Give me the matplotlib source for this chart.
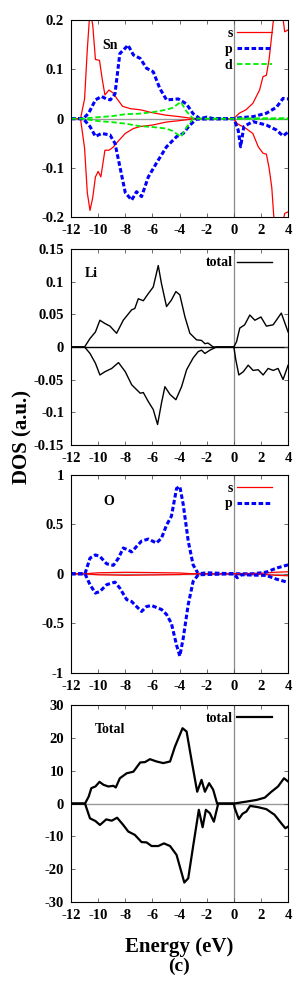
import matplotlib
matplotlib.use('Agg')
from matplotlib import pyplot as plt

plt.rcParams['font.family'] = 'Liberation Serif'
plt.rcParams['font.weight'] = 'bold'
plt.rcParams['axes.unicode_minus'] = False

# Sn panel
sn_s_up_e = [-12, -11.3, -11.0, -10.8, -10.6, -10.4, -10.2, -9.9, -9.7, -9.5, -9.2, -8.9, -8.6, -8.2,
             -7.6, -6.9, -6.0, -5.0, -4.0, -3.2, -2.8, 0.0, 0.4, 0.9, 1.4, 1.9, 2.15, 2.4, 2.6, 2.8,
             3.0, 3.5, 3.75, 4.0]
sn_s_up = [0, 0, 0.04, 0.14, 0.22, 0.19, 0.12, 0.118, 0.08, 0.048, 0.058, 0.052, 0.04, 0.025,
           0.02, 0.018, 0.012, 0.007, 0.004, 0.001, 0, 0, 0.011, 0.018, 0.031, 0.058, 0.085, 0.088,
           0.12, 0.17, 0.22, 0.23, 0.176, 0.18]
sn_s_dn_e = [-12, -11.3, -11.0, -10.8, -10.6, -10.4, -10.2, -10.0, -9.8, -9.5, -9.2, -8.9, -8.5, -8.0,
             -7.4, -6.9, -6.0, -5.0, -4.0, -2.8, 0.0, 0.25, 0.9, 1.4, 1.8, 2.15, 2.4, 2.6, 2.8, 3.0,
             3.5, 3.75, 4.0]
sn_s_dn = [0, 0, -0.06, -0.15, -0.186, -0.16, -0.118, -0.107, -0.118, -0.064, -0.064, -0.058, -0.045,
           -0.03, -0.02, -0.016, -0.013, -0.007, -0.004, 0, 0, -0.01, -0.02, -0.03, -0.057, -0.07,
           -0.072, -0.1, -0.14, -0.22, -0.23, -0.192, -0.189]
sn_p_up_e = [-12, -11.1, -10.7, -10.2, -9.75, -9.4, -9.1, -8.76, -8.4, -8.1, -7.8, -7.4, -6.9, -6.43,
             -5.94, -5.45, -4.96, -4.47, -4.1, -3.5, -3.0, -2.5, -2.0, -1.5, 0, 0.5, 1.4, 2.4, 3.14,
             3.63, 4.0]
sn_p_up = [0, 0, 0.011, 0.038, 0.045, 0.04, 0.038, 0.05, 0.132, 0.14, 0.149, 0.129, 0.122, 0.102,
           0.095, 0.061, 0.038, 0.039, 0.04, 0.03, 0.01, 0.0, 0.003, 0, 0, 0.002, 0.004, 0.011,
           0.023, 0.041, 0.04]
sn_p_dn_e = [-12, -11.1, -10.6, -10.2, -9.75, -9.13, -8.76, -8.4, -8.0, -7.53, -7.17, -6.8, -6.3,
             -5.7, -4.96, -4.2, -3.73, -3.24, -2.75, 0, 0.32, 0.5, 0.74, 1.4, 2.4, 3.14, 3.63, 4.0]
sn_p_dn = [0, 0, -0.016, -0.036, -0.03, -0.033, -0.05, -0.097, -0.15, -0.165, -0.148, -0.158,
           -0.118, -0.09, -0.057, -0.036, -0.03, -0.013, -0.001, 0, -0.023, -0.057, -0.016, -0.006,
           -0.013, -0.023, -0.035, -0.027]
sn_d_e = [-12, -11.2, -10, -9, -8, -7, -6, -5, -4.5, -3.9, -3.5, -3.0, 4.0]
sn_d_up = [0, 0, 0.003, 0.005, 0.009, 0.01, 0.013, 0.018, 0.022, 0.034, 0.015, 0, 0.001]
sn_d_dn = [0, 0, -0.005, -0.007, -0.01, -0.015, -0.017, -0.02, -0.025, -0.037, -0.018, 0, -0.001]

# Li panel
li_up_e = [-12, -11.0, -10.6, -10.2, -9.87, -9.5, -9.13, -8.64, -8.15, -7.53, -7.3, -7.04, -6.67,
           -6.3, -5.94, -5.57, -5.33, -4.96, -4.6, -4.27, -3.98, -3.6, -3.24, -2.75, -2.38, -2.13,
           -1.9, -1.52, -1.0, 0, 0.2, 0.44, 0.8, 1.18, 1.55, 2.0, 2.4, 2.9, 3.5, 4.0]
li_up = [0, 0, 0.013, 0.023, 0.041, 0.036, 0.032, 0.021, 0.041, 0.057, 0.059, 0.074, 0.071, 0.082,
         0.092, 0.125, 0.097, 0.062, 0.072, 0.085, 0.08, 0.046, 0.021, 0.011, 0.01, 0.005, 0.006,
         0.0, 0, 0, 0.008, 0.029, 0.034, 0.049, 0.041, 0.046, 0.032, 0.034, 0.052, 0.023]
li_dn_e = [-12, -11.0, -10.6, -10.2, -9.87, -9.5, -9.0, -8.5, -8.0, -7.53, -6.9, -6.67, -6.3, -5.94,
           -5.62, -5.33, -5.08, -4.7, -4.27, -3.85, -3.48, -3.0, -2.62, -2.38, -2.13, -1.77, -1.28,
           0, 0.15, 0.37, 0.7, 1.06, 1.42, 1.8, 2.16, 2.53, 2.9, 3.26, 3.63, 4.0]
li_dn = [0, 0, -0.01, -0.025, -0.043, -0.038, -0.033, -0.024, -0.038, -0.058, -0.071, -0.07,
         -0.084, -0.096, -0.119, -0.086, -0.061, -0.073, -0.081, -0.061, -0.035, -0.017, -0.007,
         -0.005, -0.01, -0.005, 0, 0, -0.02, -0.043, -0.038, -0.028, -0.036, -0.035, -0.043,
         -0.033, -0.036, -0.033, -0.05, -0.028]

# O panel
o_p_up_e = [-12, -10.97, -10.6, -10.2, -9.87, -9.37, -8.88, -8.5, -8.15, -7.78, -7.53, -7.17, -6.8,
            -6.3, -5.7, -5.33, -4.96, -4.6, -4.22, -3.98, -3.73, -3.36, -3.0, -2.62, -2.0, 0, 1.42,
            2.4, 3.14, 4.0]
o_p_up = [0, 0, 0.158, 0.19, 0.175, 0.1, 0.085, 0.158, 0.26, 0.24, 0.22, 0.275, 0.33, 0.35, 0.31,
          0.36, 0.49, 0.58, 0.86, 0.88, 0.7, 0.33, 0.09, 0, 0.01, 0, 0, 0.017, 0.057, 0.09]
o_p_dn_e = [-12, -10.97, -10.6, -10.2, -9.87, -9.37, -8.76, -8.4, -7.9, -7.53, -7.17, -6.8, -6.43,
            -6.06, -5.7, -5.33, -4.96, -4.6, -4.22, -3.98, -3.73, -3.36, -3.0, -2.62, 0, 0.25, 0.56,
            2.4, 3.14, 4.0]
o_p_dn = [0, 0, -0.11, -0.195, -0.178, -0.11, -0.084, -0.145, -0.26, -0.28, -0.33, -0.38, -0.33,
          -0.32, -0.34, -0.36, -0.41, -0.5, -0.72, -0.83, -0.65, -0.31, -0.077, -0.01, 0, -0.04,
          -0.01, -0.017, -0.054, -0.087]
o_s_e = [-12, -11, -10, -8, -6, -4, -3, 0, 2, 3, 4]
o_s_up = [0, 0, 0.01, 0.015, 0.012, 0.008, 0, 0, 0.005, 0.015, 0.02]
o_s_dn = [0, 0, -0.01, -0.015, -0.012, -0.008, 0, 0, -0.005, -0.015, -0.02]

# Total panel
tot_up_e = [-12, -10.97, -10.7, -10.5, -10.2, -9.9, -9.6, -9.25, -8.88, -8.7, -8.4, -7.9, -7.4,
            -6.9, -6.55, -6.18, -5.7, -5.2, -4.7, -4.34, -3.78, -3.48, -3.12, -2.7, -2.38, -2.13,
            -1.82, -1.52, -1.23, 0, 0.93, 1.67, 2.28, 2.77, 3.26, 3.7, 4.0]
tot_up = [0, 0, 2.1, 4.7, 5.2, 6.6, 5.7, 5.2, 5.4, 4.9, 7.7, 9.2, 9.7, 12.5, 12.6, 13.5, 12.8, 12.3,
          12.8, 17.3, 22.9, 21.9, 13.3, 3.6, 7.2, 3.6, 6.2, 4.2, 0, 0, 0.6, 1.1, 1.8, 3.6, 5.2, 7.7,
          6.7]
tot_dn_e = [-12, -10.97, -10.6, -10.2, -9.87, -9.4, -9.0, -8.6, -8.15, -7.78, -7.3, -6.8, -6.43,
            -6.06, -5.57, -5.15, -4.7, -4.22, -3.65, -3.36, -3.0, -2.58, -2.3, -2.06, -1.77, -1.47,
            -1.15, 0, 0.07, 0.37, 0.64, 0.93, 1.2, 1.8, 2.4, 3.0, 3.5, 3.8, 4.0]
tot_dn = [0, 0, -4.5, -5.3, -6.5, -4.8, -5.2, -4.3, -6.5, -8.5, -9.5, -11.7, -11.8, -12.9, -12.9,
          -12.1, -12.9, -15.6, -24, -22.7, -13, -1.9, -7.2, -1.9, -2.9, -5.5, 0, 0, -1.4, -4.7,
          -3.1, -2.4, -0.7, -1.1, -1.7, -3.4, -6, -7.5, -7]

x_ticks = [-12, -10, -8, -6, -4, -2, 0, 2, 4]
sn_ticks = [-0.2, -0.1, 0, 0.1, 0.2]
sn_labels = ['-0.2', '-0.1', '0', '0.1', '0.2']
li_ticks = [-0.15, -0.1, -0.05, 0, 0.05, 0.1, 0.15]
li_labels = ['-0.15', '-0.1', '-0.05', '0', '0.05', '0.1', '0.15']
o_ticks = [-1, -0.5, 0, 0.5, 1]
o_labels = ['-1', '-0.5', '0', '0.5', '1']
tot_ticks = [-30, -20, -10, 0, 10, 20, 30]
tot_labels = ['-30', '-20', '-10', '0', '10', '20', '30']

RED = '#ff0000'
BLUE = '#0000ff'
GREEN = '#00ee00'

fig = plt.figure(figsize=(2.99, 9.97), dpi=100)
left, width = 0.2375, 0.726
boxes = [(0.782, 0.198), (0.554, 0.196), (0.325, 0.199), (0.095, 0.198)]
axes = [fig.add_axes([left, b, width, h]) for b, h in boxes]


def style(ax, ticks, labels, name, name_pos, zero_color='#999999'):
    ax.set_xlim(-12, 4)
    ax.set_ylim(ticks[0], ticks[-1])
    ax.set_xticks(x_ticks)
    ax.set_xticklabels([str(t) for t in x_ticks])
    ax.set_yticks(ticks)
    ax.set_yticklabels(labels)
    ax.tick_params(direction='in', length=3, width=0.6, top=True, right=True,
                   labelsize=10.5, pad=5, color='#555555')
    for lab in ax.get_xticklabels() + ax.get_yticklabels():
        lab.set_fontweight('bold')
    for sp in ax.spines.values():
        sp.set_linewidth(0.8)
    ax.axvline(0, color='#888888', lw=0.9, zorder=1)
    ax.axhline(0, color=zero_color, lw=1.0, zorder=1)
    ax.text(name_pos[0], name_pos[1], name, transform=ax.transAxes, fontsize=10,
            fontweight='bold', va='center', ha='left')


def legend(ax, size=10):
    ax.legend(loc='upper right', bbox_to_anchor=(0.975, 1.02), frameon=False, markerfirst=False,
              handlelength=2.5, handletextpad=0.3, labelspacing=0.2, borderpad=0.3,
              prop={'family': 'Liberation Serif', 'weight': 'bold', 'size': size})


ax = axes[0]
ax.plot(sn_s_up_e, sn_s_up, color=RED, lw=0.9, label='s')
ax.plot(sn_p_up_e, sn_p_up, color=BLUE, lw=2.2, ls=(0, (1.5, 0.8)), label='p')
ax.plot(sn_d_e, sn_d_up, color=GREEN, lw=1.3, ls=(0, (3, 1.5)), label='d')
ax.plot(sn_s_dn_e, sn_s_dn, color=RED, lw=0.9)
ax.plot(sn_p_dn_e, sn_p_dn, color=BLUE, lw=2.2, ls=(0, (1.5, 0.8)))
ax.plot(sn_d_e, sn_d_dn, color=GREEN, lw=1.3, ls=(0, (3, 1.5)))
style(ax, sn_ticks, sn_labels, 'Sn', (0.143, 0.873))
legend(ax)

ax = axes[1]
ax.plot(li_up_e, li_up, color='black', lw=1.0, label='total')
ax.plot(li_dn_e, li_dn, color='black', lw=1.0)
style(ax, li_ticks, li_labels, 'Li', (0.065, 0.877), zero_color='black')
legend(ax)

ax = axes[2]
ax.plot(o_s_e, o_s_up, color=RED, lw=0.9, label='s')
ax.plot(o_p_up_e, o_p_up, color=BLUE, lw=2.2, ls=(0, (1.5, 0.8)), label='p')
ax.plot(o_s_e, o_s_dn, color=RED, lw=0.9)
ax.plot(o_p_dn_e, o_p_dn, color=BLUE, lw=2.2, ls=(0, (1.5, 0.8)))
style(ax, o_ticks, o_labels, 'O', (0.147, 0.864))
legend(ax)

ax = axes[3]
ax.plot(tot_up_e, tot_up, color='black', lw=1.6, label='total')
ax.plot(tot_dn_e, tot_dn, color='black', lw=1.6)
style(ax, tot_ticks, tot_labels, 'Total', (0.11, 0.873))
legend(ax)

fig.text(0.075, 0.562, 'DOS (a.u.)', rotation=90, fontsize=15, fontweight='bold',
         ha='center', va='center')
fig.text(0.6, 0.05, 'Energy (eV)', fontsize=15, fontweight='bold', ha='center', va='center')
fig.text(0.6, 0.031, '(c)', fontsize=14, fontweight='bold', ha='center', va='center')

fig.savefig('out.png', dpi=100)
